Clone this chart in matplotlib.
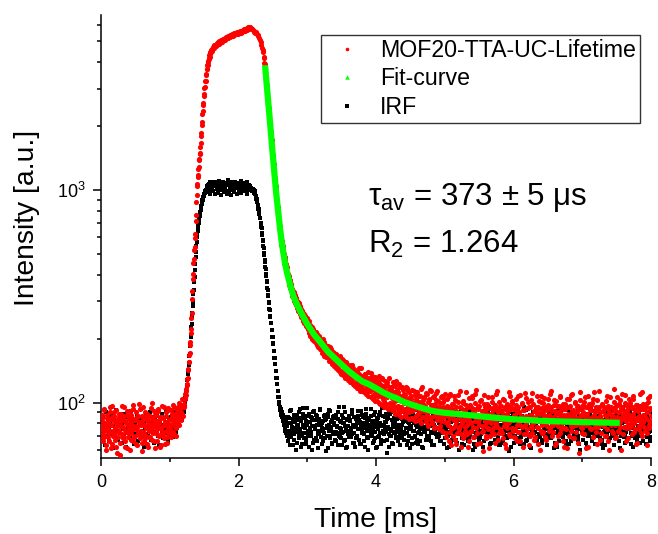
import numpy as np
import matplotlib
matplotlib.use('Agg')
import matplotlib.pyplot as plt
from matplotlib.lines import Line2D
from matplotlib.ticker import LogLocator, MultipleLocator, NullFormatter

plt.rcParams['font.family'] = ['Liberation Sans', 'DejaVu Sans']
plt.rcParams['mathtext.fontset'] = 'custom'
plt.rcParams['mathtext.rm'] = 'Liberation Sans'
plt.rcParams['mathtext.it'] = 'Liberation Sans:italic'

# MOF20 TTA-UC lifetime (red) in segments
# each segment: (start time ms, step ms, values)
red_base = [78, 71, 85, 66, 92, 74, 80, 63, 88, 76,
            69, 83, 72, 95, 61, 79, 86, 70, 74, 90,
            67, 81, 77, 58, 84, 73, 89, 65, 78, 82,
            71, 97, 68, 75, 87, 62, 80, 74, 91, 69,
            84, 76, 60, 88, 72, 79, 66, 93, 75, 70,
            83, 64, 86, 77, 71, 99, 68, 81, 74, 59,
            87, 73, 79, 66, 90, 76, 70, 84, 62, 78,
            82, 69, 94, 75, 67, 85, 72, 80, 61, 88,
            74, 79, 66, 91, 70, 83, 76, 63, 86, 72,
            78, 95, 68, 81, 74, 87, 65, 79, 92, 71,
            84, 76, 69, 89, 80, 73, 96, 77, 85, 70,
            88, 82, 91, 79, 86, 94, 83, 90, 98, 87]
red_base_b = [75, 88, 68, 81, 93, 70, 77, 60, 85, 73,
              80, 66, 90, 74, 79, 97, 64, 83, 71, 87,
              76, 92, 62, 80, 69, 86, 74, 57, 89, 78,
              84, 70, 77, 95, 66, 82, 73, 88, 61, 79,
              72, 91, 80, 67, 85, 75, 98, 69, 83, 76,
              90, 78, 63, 87, 74, 81, 93, 70, 79, 65,
              83, 95, 72, 86, 68, 77, 89, 64, 81, 74,
              69, 87, 79, 100, 73, 84, 66, 91, 77, 82,
              88, 71, 93, 76, 80, 62, 86, 75, 97, 70,
              85, 73, 81, 64, 90, 78, 69, 94, 75, 83,
              79, 92, 74, 86, 98, 71, 82, 89, 76, 93,
              80, 95, 87, 100, 84, 92, 97, 89, 104, 96]
red_rise = [95, 99, 98, 104, 105, 110, 109, 116, 114, 121,
            122, 129, 131, 142, 144, 155, 156, 167, 171, 187,
            192, 212, 222, 249, 264, 306, 334, 381, 405, 455,
            472, 522, 541, 597, 620, 712, 765, 875, 945, 1040,
            1070, 1150, 1175, 1260, 1290, 1380, 1400, 1480, 1500, 1600,
            1660, 1800, 1860, 2020, 2090, 2270, 2340, 2510, 2570, 2760,
            2820, 3030, 3050, 3250, 3270, 3480, 3500, 3700, 3690, 3890,
            3850, 4050, 3990, 4190, 4120, 4320, 4230, 4440, 4340, 4540,
            4450]
red_top = [4580, 4520, 4700, 4640, 4810, 4730, 4780, 4900, 4820, 4950,
           4870, 5010, 4930, 4990, 5080, 4980, 5130, 5050, 5110, 5200,
           5090, 5240, 5160, 5290, 5190, 5320, 5250, 5380, 5280, 5350,
           5430, 5310, 5450, 5370, 5490, 5390, 5460, 5530, 5410, 5550,
           5470, 5580, 5500, 5620, 5540, 5650, 5570, 5690, 5610, 5720,
           5650, 5770, 5680, 5820, 5720, 5850, 5760, 5800, 5710, 5740,
           5650, 5600, 5560, 5480, 5520, 5460, 5420, 5340, 5290, 5180,
           5080, 4940, 4800, 4660, 4560]
red_fall = [4480, 4450, 4230, 4180, 3960, 3920, 3720, 3690, 3450, 3400,
            3160, 3120, 2900, 2870, 2680, 2640, 2450, 2420, 2250, 2230,
            2070, 2050, 1890, 1870, 1740, 1710, 1590, 1570, 1460, 1450,
            1340, 1330, 1230, 1220, 1140, 1130, 1040, 1045, 965, 962,
            890, 895, 826, 830, 760, 772, 708, 720, 660, 675,
            618, 640, 578, 605, 550, 575, 522, 548, 498, 526,
            475, 503, 455, 485, 438, 468, 425, 449, 410, 436]
red_tail = [412, 381, 395, 358, 372, 340, 352, 318, 335, 322,
            302, 322, 289, 310, 280, 298, 271, 290, 262, 281,
            276, 252, 270, 246, 262, 238, 255, 232, 249, 226,
            236, 212, 229, 205, 226, 218, 200, 222, 197, 215,
            211, 190, 207, 186, 203, 182, 200, 195, 178, 193,
            195, 172, 190, 177, 166, 187, 164, 182, 168, 177,
            181, 157, 173, 161, 178, 152, 170, 165, 149, 168,
            166, 145, 162, 142, 160, 153, 139, 158, 137, 152,
            156, 135, 151, 146, 131, 155, 133, 148, 128, 144,
            147, 125, 143, 131, 151, 122, 139, 134, 120, 141,
            138, 117, 135, 124, 145, 114, 131, 121, 134, 113,
            133, 112, 127, 137, 110, 124, 116, 131, 108, 126,
            123, 138, 106, 120, 128, 104, 117, 132, 107, 121,
            125, 102, 118, 133, 100, 115, 110, 129, 98, 120,
            115, 95, 126, 107, 99, 121, 93, 112, 131, 100,
            110, 118, 92, 125, 97, 112, 89, 120, 104, 94,
            115, 90, 108, 122, 94, 102, 86, 118, 105, 92,
            110, 88, 103, 119, 90, 98, 113, 84, 106, 95,
            104, 85, 115, 92, 100, 82, 109, 94, 88, 112,
            99, 83, 107, 90, 116, 80, 96, 103, 86, 106,
            94, 81, 111, 88, 101, 78, 104, 91, 84, 114,
            98, 80, 91, 108, 76, 93, 103, 83, 113, 87,
            96, 75, 89, 106, 82, 94, 73, 101, 86, 110,
            88, 72, 104, 81, 95, 66, 110, 85, 76, 99,
            92, 70, 83, 107, 78, 96, 64, 89, 101, 75,
            86, 113, 71, 94, 80, 68, 102, 84, 91, 74,
            98, 79, 87, 62, 105, 83, 73, 95, 88, 108,
            77, 90, 69, 100, 84, 115, 72, 93, 81, 97,
            65, 86, 103, 78, 91, 74, 109, 82, 95, 70,
            89, 99, 76, 85, 61, 94, 80, 106, 73, 88,
            96, 71, 83, 110, 79, 92, 67, 87, 101, 75,
            84, 97, 72, 89, 104, 78, 93, 64, 86, 99,
            76, 91, 112, 81, 70, 95, 85, 102, 74, 88,
            93, 68, 84, 98, 79, 107, 73, 90, 82, 66,
            87, 100, 77, 92, 71, 85, 111, 80, 94, 75,
            83, 63, 96, 88, 78, 103, 72, 86, 99, 81,
            69, 91, 84, 108, 76, 95, 82, 60, 89, 101,
            79, 94, 73, 87, 105, 80, 67, 92, 85, 98,
            74, 88, 110, 82, 95, 70, 86, 79, 103, 91,
            84, 65, 97, 78, 90, 83, 106, 72, 88, 94,
            77, 99, 86, 62, 93, 81, 75, 104, 89, 70,
            96, 83, 109, 78, 87, 68, 92, 80, 100, 85,
            73, 90, 82, 97, 58, 86, 112, 79, 94, 76,
            88, 101, 71, 84, 95, 61, 89, 80, 107, 83,
            92, 75, 98, 86, 69, 104, 81, 90, 77, 96,
            85, 64, 93, 79, 113, 87, 72, 99, 82, 91,
            78, 95, 88, 70, 102, 84, 97, 66, 90, 80,
            106, 83, 74, 94, 87, 116, 79, 92, 69, 86,
            98, 81, 90, 73, 103, 85, 60, 95, 88, 77,
            91, 109, 82, 76, 97, 68, 89, 84, 100, 79,
            86, 71, 94, 104, 80, 92, 75, 98, 83, 65,
            96, 87, 78, 110, 84, 72, 93, 81, 99, 88,
            74, 95, 85, 63, 101, 90, 79, 107, 82, 93]
red_tail_b = [388, 405, 362, 378, 345, 361, 326, 343, 314, 330,
              318, 295, 312, 284, 302, 276, 294, 270, 285, 259,
              254, 271, 243, 263, 236, 256, 229, 247, 240, 223,
              222, 241, 214, 233, 207, 228, 201, 219, 212, 196,
              201, 215, 193, 210, 188, 205, 184, 198, 191, 179,
              183, 199, 176, 192, 170, 186, 175, 165, 184, 171,
              163, 183, 159, 176, 167, 154, 174, 160, 172, 151,
              154, 170, 148, 163, 157, 143, 166, 150, 139, 160,
              141, 159, 145, 137, 156, 149, 134, 152, 140, 130,
              145, 130, 150, 137, 126, 146, 135, 121, 143, 131,
              124, 141, 130, 118, 137, 127, 146, 120, 133, 116,
              129, 115, 136, 123, 111, 130, 119, 140, 114, 125,
              113, 129, 118, 134, 109, 124, 115, 102, 130, 112,
              121, 107, 127, 113, 99, 123, 108, 131, 104, 117,
              102, 120, 109, 96, 125, 106, 114, 94, 119, 110,
              99, 116, 105, 92, 121, 101, 110, 96, 127, 103,
              97, 112, 88, 108, 119, 95, 104, 91, 115, 100,
              93, 109, 86, 104, 117, 96, 90, 112, 101, 85,
              107, 91, 100, 84, 113, 95, 104, 87, 110, 93,
              89, 101, 82, 108, 94, 119, 86, 99, 91, 105,
              97, 84, 110, 89, 79, 103, 92, 115, 86, 98,
              81, 95, 106, 87, 99, 77, 111, 90, 84, 102,
              93, 78, 100, 85, 108, 74, 96, 88, 104, 81,
              91, 69, 97, 79, 86, 107, 73, 94, 63, 88,
              76, 99, 84, 67, 103, 81, 90, 72, 109, 85,
              95, 78, 62, 89, 82, 100, 70, 92, 77, 112,
              83, 71, 96, 87, 66, 98, 80, 74, 105, 91,
              69, 93, 82, 110, 76, 88, 64, 97, 84, 79,
              102, 87, 73, 91, 59, 85, 99, 78, 93, 68,
              81, 106, 75, 94, 83, 70, 89, 101, 76, 92,
              87, 65, 98, 80, 114, 77, 90, 72, 96, 84,
              74, 91, 86, 68, 103, 82, 95, 79, 61, 89,
              97, 80, 71, 107, 85, 93, 76, 100, 83, 69,
              88, 75, 104, 90, 66, 96, 81, 73, 109, 86,
              78, 99, 84, 62, 92, 79, 105, 87, 71, 94,
              101, 83, 70, 95, 88, 76, 111, 80, 91, 67,
              85, 96, 77, 89, 64, 102, 82, 93, 74, 108,
              72, 90, 100, 81, 95, 69, 87, 78, 104, 83,
              94, 76, 86, 113, 79, 91, 73, 98, 84, 63,
              89, 102, 80, 70, 97, 85, 107, 75, 92, 81,
              66, 93, 88, 99, 76, 83, 61, 95, 86, 104,
              97, 80, 74, 91, 110, 78, 89, 68, 101, 84,
              79, 96, 85, 65, 93, 103, 77, 88, 72, 98,
              90, 71, 106, 83, 79, 95, 86, 62, 99, 82,
              76, 92, 81, 100, 69, 88, 112, 80, 94, 73,
              103, 85, 77, 96, 90, 67, 84, 98, 79, 91,
              82, 70, 94, 87, 108, 75, 93, 83, 60, 89,
              95, 79, 86, 72, 101, 91, 68, 97, 84, 106,
              74, 90, 99, 81, 77, 94, 85, 110, 71, 88,
              100, 83, 66, 92, 87, 79, 104, 76, 95, 82,
              78, 96, 89, 107, 73, 85, 92, 64, 98, 86,
              91, 75, 83, 97, 80, 112, 70, 88, 93, 77,
              84, 99, 72, 90, 105, 82, 76, 94, 87]

# IRF (black)
irf_base = [72, 81, 68, 86, 75, 79, 63, 90, 74, 70,
            84, 77, 66, 82, 73, 88, 71, 78, 61, 85,
            76, 69, 92, 74, 80, 67, 83, 72, 78, 87,
            65, 79, 75, 89, 70, 81, 74, 62, 86, 77,
            73, 84, 68, 79, 91, 72, 76, 83, 64, 80,
            78, 71, 87, 75, 66, 82, 79, 73, 93, 69,
            85, 74, 80, 62, 77, 88, 71, 83, 76, 70,
            79, 90, 67, 81, 74, 86, 72, 65, 84, 78,
            73, 80, 87, 70, 76, 63, 82, 79, 89, 74,
            68, 85, 77, 72, 91, 75, 81, 66, 78, 84,
            71, 79, 86, 74, 69, 83, 77, 90, 80, 73,
            82, 76, 88, 79, 85, 91, 84, 87, 83, 89]
irf_rise = [90, 96, 93, 101, 98, 105, 104, 112, 112, 120,
            121, 128, 129, 137, 140, 150, 153, 165, 170, 185,
            189, 203, 209, 227, 234, 255, 263, 286, 298, 325,
            340, 368, 389, 420, 447, 485, 513, 548, 569, 600,
            617, 645, 661, 686, 700, 722, 733, 756, 767, 792,
            804, 828, 841, 862, 871, 895, 902, 918, 923, 940,
            944, 960, 966, 985, 974, 1005, 990, 1030, 975, 1045,
            1000, 1060, 985, 1035, 1070, 995, 1050, 960, 1085, 1010,
            1040]
irf_top = [1020, 1075, 985, 1050, 1095, 960, 1040, 1010, 1085, 970,
           1060, 1100, 995, 1035, 950, 1070, 1015, 1090, 980, 1045,
           1005, 1080, 960, 1055, 1110, 990, 1030, 1065, 945, 1040,
           1085, 1000, 1050, 975, 1095, 1020, 1060, 955, 1045, 1075,
           990, 1030, 1100, 965, 1050, 1015, 1080, 985, 1040, 1070,
           1000, 1090, 960, 1035, 1060, 995, 1045, 1020, 985, 1005]
irf_fall = [1012, 990, 1005, 982, 995, 968, 985, 960, 962, 942,
            935, 910, 905, 880, 880, 852, 848, 818, 812, 785,
            775, 742, 735, 700, 700, 670, 662, 630, 615, 585,
            575, 545, 532, 505, 494, 468, 458, 435, 425, 402,
            395, 372, 368, 345, 340, 320, 316, 296, 293, 275,
            273, 255, 254, 236, 236, 220, 219, 204, 203, 190,
            189, 176, 176, 163, 163, 152, 152, 141, 141, 131,
            131, 122, 122, 114, 113, 106, 106, 101, 99, 96,
            95, 92, 93, 88, 91, 86, 90, 84, 88, 82,
            86, 79, 85, 77, 83, 74, 81, 72, 84, 70]
irf_tail = [78, 66, 85, 72, 91, 69, 80, 74, 63, 88,
            71, 83, 76, 60, 87, 73, 79, 68, 93, 75,
            82, 70, 64, 89, 77, 72, 85, 67, 79, 94,
            73, 81, 62, 76, 86, 70, 78, 90, 65, 83,
            75, 68, 88, 79, 71, 61, 84, 74, 92, 69,
            80, 76, 66, 87, 72, 83, 59, 78, 70, 89,
            74, 92, 68, 81, 75, 64, 86, 71, 79, 67,
            85, 73, 77, 63, 90, 70, 82, 76, 68, 88,
            72, 80, 95, 66, 78, 74, 61, 84, 71, 87,
            69, 83, 76, 73, 89, 65, 79, 72, 86, 62,
            77, 70, 84, 91, 67, 75, 81, 64, 88, 73,
            80, 66, 72, 85, 78, 93, 69, 76, 60, 83,
            74, 87, 71, 79, 65, 82, 73, 90, 68, 77,
            84, 62, 75, 88, 70, 80, 67, 78, 94, 72,
            66, 79, 86, 73, 81, 58, 76, 85, 71, 89,
            75, 70, 83, 64, 77, 92, 72, 80, 68, 84,
            87, 73, 69, 78, 63, 85, 74, 79, 90, 67,
            71, 82, 76, 88, 72, 66, 81, 75, 61, 86,
            78, 68, 91, 74, 80, 70, 84, 65, 77, 83,
            64, 85, 73, 79, 87, 71, 62, 82, 76, 89,
            73, 77, 67, 86, 75, 93, 70, 78, 84, 66,
            81, 72, 88, 63, 79, 74, 85, 69, 76, 90,
            70, 83, 76, 72, 66, 87, 80, 75, 92, 68,
            86, 74, 61, 79, 84, 71, 77, 89, 65, 82,
            76, 69, 85, 73, 90, 78, 67, 81, 72, 60,
            83, 75, 79, 88, 68, 74, 86, 63, 80, 77,
            71, 92, 74, 66, 82, 76, 70, 87, 79, 73,
            89, 64, 78, 84, 72, 69, 81, 75, 93, 67,
            74, 80, 71, 86, 62, 79, 88, 73, 77, 85,
            68, 83, 90, 70, 76, 82, 65, 78, 72, 87,
            79, 73, 67, 85, 81, 74, 91, 69, 84, 63,
            76, 88, 72, 78, 66, 83, 75, 80, 70, 94,
            82, 69, 77, 59, 86, 73, 79, 71, 89, 75,
            65, 84, 80, 74, 90, 68, 77, 85, 72, 81,
            78, 71, 87, 76, 64, 82, 73, 92, 67, 79,
            86, 75, 70, 83, 77, 61, 88, 74, 80, 72,
            73, 90, 78, 66, 84, 76, 71, 82, 69, 87,
            80, 67, 85, 79, 72, 93, 75, 63, 81, 76,
            70, 83, 74, 88, 68, 78, 86, 72, 77, 65,
            89, 76, 62, 81, 75, 84, 70, 79, 91, 73,
            77, 69, 86, 72, 80, 66, 83, 75, 71, 88,
            64, 82, 78, 90, 74, 79, 68, 85, 76, 72,
            84, 73, 81, 67, 87, 75, 60, 80, 78, 92,
            71, 86, 76, 79, 65, 83, 72, 89, 70, 77,
            82, 74, 93, 68, 78, 85, 73, 64, 86, 75,
            76, 80, 70, 84, 72, 88, 79, 67, 83, 61,
            90, 73, 78, 75, 86, 69, 81, 74, 77, 85,
            68, 84, 72, 91, 76, 63, 80, 87, 71, 79,
            75, 82, 66, 78, 89, 74, 70, 83, 92, 73,
            81, 65, 87, 73, 77, 85, 68, 79, 76, 90,
            72, 79, 84, 62, 80, 75, 88, 71, 83, 67,
            86, 74, 70, 82, 78, 93, 73, 66, 81, 77,
            79, 88, 64, 76, 84, 71, 80, 90, 69, 74]
irf_tail_b = [74, 86, 69, 80, 63, 92, 77, 71, 84, 67,
              81, 73, 88, 65, 78, 83, 70, 90, 75, 62,
              85, 72, 79, 94, 68, 76, 82, 64, 87, 74,
              70, 89, 76, 81, 73, 60, 85, 78, 67, 91,
              77, 83, 66, 87, 74, 80, 71, 93, 69, 79,
              64, 82, 75, 72, 88, 68, 84, 76, 61, 86,
              79, 70, 91, 77, 65, 83, 73, 87, 80, 71,
              88, 66, 78, 84, 72, 95, 69, 81, 75, 63,
              73, 85, 80, 67, 90, 76, 62, 83, 78, 87,
              82, 74, 69, 92, 71, 79, 86, 65, 77, 84,
              68, 80, 87, 75, 83, 64, 78, 91, 72, 76,
              86, 71, 77, 62, 89, 81, 74, 68, 85, 79,
              75, 93, 70, 82, 76, 66, 88, 73, 80, 61,
              83, 69, 85, 78, 72, 90, 64, 79, 74, 87,
              71, 81, 76, 89, 67, 84, 77, 62, 92, 70,
              90, 74, 65, 80, 85, 73, 82, 78, 69, 76,
              66, 87, 79, 71, 94, 75, 68, 84, 81, 73,
              84, 72, 91, 76, 63, 86, 80, 70, 77, 89,
              77, 64, 82, 88, 74, 69, 92, 79, 67, 83,
              72, 90, 75, 66, 81, 78, 85, 61, 88, 74,
              87, 76, 70, 84, 92, 67, 79, 83, 73, 80,
              63, 82, 89, 74, 77, 85, 71, 94, 76, 69,
              80, 73, 66, 91, 82, 75, 88, 64, 79, 86,
              75, 88, 78, 70, 62, 84, 73, 90, 81, 67,
              92, 69, 83, 76, 87, 72, 65, 80, 74, 85,
              71, 79, 93, 64, 75, 89, 82, 77, 68, 83,
              86, 74, 70, 81, 67, 78, 91, 73, 84, 60,
              77, 85, 62, 88, 79, 71, 76, 94, 69, 82,
              68, 80, 87, 73, 84, 90, 66, 78, 75, 89,
              83, 72, 78, 95, 70, 64, 85, 81, 92, 74,
              76, 89, 71, 67, 82, 77, 87, 63, 79, 86,
              91, 65, 84, 79, 73, 88, 70, 83, 76, 68,
              74, 81, 90, 72, 86, 62, 80, 75, 93, 78,
              85, 70, 76, 83, 67, 91, 77, 88, 64, 82,
              69, 87, 79, 74, 95, 72, 84, 66, 80, 76,
              82, 75, 62, 88, 71, 80, 73, 90, 78, 85,
              77, 92, 83, 69, 76, 86, 64, 81, 74, 89,
              65, 79, 88, 75, 84, 70, 93, 77, 82, 71,
              90, 73, 68, 86, 78, 82, 75, 61, 87, 80,
              72, 84, 77, 91, 66, 74, 89, 83, 70, 94,
              87, 69, 81, 76, 85, 63, 78, 72, 92, 75,
              74, 90, 66, 83, 79, 88, 71, 86, 68, 81,
              80, 76, 92, 70, 64, 84, 77, 93, 73, 87,
              67, 85, 74, 82, 89, 75, 62, 79, 86, 71,
              88, 72, 79, 66, 83, 91, 76, 70, 81, 94,
              75, 81, 87, 73, 68, 78, 85, 64, 90, 77,
              83, 63, 76, 89, 80, 71, 92, 74, 67, 84,
              79, 86, 70, 75, 93, 82, 68, 88, 76, 72,
              90, 74, 84, 61, 78, 87, 73, 80, 95, 69,
              71, 82, 77, 88, 66, 75, 91, 79, 83, 64,
              86, 70, 93, 76, 81, 68, 84, 72, 89, 78,
              73, 89, 65, 82, 77, 92, 70, 85, 74, 80,
              81, 76, 87, 69, 84, 73, 90, 66, 79]

# fit curve (green)
fit_t = [2.39, 2.42, 2.45, 2.48, 2.50, 2.53, 2.55, 2.58, 2.60, 2.625,
         2.65, 2.675, 2.70, 2.75, 2.80, 2.85, 2.90, 2.95, 3.00, 3.10,
         3.20, 3.30, 3.40, 3.50, 3.60, 3.70, 3.80, 3.90, 4.00, 4.10,
         4.20, 4.30, 4.40, 4.50, 4.60, 4.70, 4.80, 4.90, 5.00, 5.25,
         5.50, 5.75, 6.00, 6.50, 7.00, 7.50]
fit_v = [3733, 2884, 2239, 1718, 1445, 1122, 955, 776, 676, 582,
         513, 457, 417, 359, 316, 290, 269, 251, 234, 209,
         191, 174, 162, 151, 141, 133, 126, 122, 117, 112,
         108, 105, 101, 98.4, 96, 93.8, 91.8, 90.6, 89.7, 88.1,
         86.5, 84.9, 83.6, 82.0, 81.1, 80.5]

red_segs = [(0.0, 0.01, red_base), (0.005, 0.01, red_base_b), (1.2, 0.005, red_rise),
            (1.61, 0.01, red_top), (2.355, 0.005, red_fall), (2.71, 0.01, red_tail),
            (2.715, 0.01, red_tail_b)]
irf_segs = [(0.0, 0.01, irf_base), (1.2, 0.005, irf_rise), (1.61, 0.01, irf_top),
            (2.205, 0.005, irf_fall), (2.71, 0.01, irf_tail), (2.715, 0.01, irf_tail_b)]


def join(segs):
    t = np.concatenate([s + d * np.arange(len(v)) for s, d, v in segs])
    y = np.concatenate([np.asarray(v, float) for s, d, v in segs])
    return t, y


red_t, red_y = join(red_segs)
irf_t, irf_y = join(irf_segs)

fig = plt.figure(figsize=(6.58, 5.34), dpi=100)
ax = fig.add_axes([101 / 658, (534 - 458.3) / 534, 550 / 658, (458.3 - 15) / 534])

ax.plot(irf_t, irf_y, 's', color='black', ms=3.2, mew=0, zorder=2)
ax.plot(red_t, red_y, 'o', color='#ff0000', ms=3.7, mew=0, zorder=3)
ax.plot(fit_t, fit_v, '-', color='#00ff00', lw=4.5, zorder=4)

ax.set_yscale('log')
ax.set_xlim(0, 8)
ax.set_ylim(54.8, 6650)

ax.xaxis.set_major_locator(MultipleLocator(2))
ax.xaxis.set_minor_locator(MultipleLocator(1))
ax.yaxis.set_major_locator(LogLocator(base=10))
ax.yaxis.set_minor_locator(LogLocator(base=10, subs=np.arange(2, 10)))
ax.yaxis.set_minor_formatter(NullFormatter())

for s in ['top', 'right']:
    ax.spines[s].set_visible(False)
for s in ['left', 'bottom']:
    ax.spines[s].set_linewidth(1.1)

ax.tick_params(which='major', direction='out', length=5.5, width=1.1, labelsize=13, pad=5.5)
ax.tick_params(which='minor', direction='out', length=3, width=1.1)

ax.set_xlabel('Time [ms]', fontsize=20.3, labelpad=12)
ax.set_ylabel('Intensity [a.u.]', fontsize=20.3)
ax.yaxis.set_label_coords(-0.111, 0.542)

handles = [Line2D([], [], ls='none', marker='o', color='#ff0000', ms=2.6, mew=0),
           Line2D([], [], ls='none', marker='^', color='#00ff00', ms=3.2, mew=0),
           Line2D([], [], ls='none', marker='s', color='black', ms=2.2, mew=0)]
labels = ['MOF20-TTA-UC-Lifetime', 'Fit-curve', 'IRF']
leg = ax.legend(handles, labels, loc='upper left', bbox_to_anchor=(0.3995, 0.9556),
                fontsize=16.7, frameon=True, fancybox=False, edgecolor='black',
                handlelength=1.9, handletextpad=0.5, borderpad=0.17, labelspacing=0.24,
                borderaxespad=0)
leg.get_frame().set_linewidth(1.0)

ax.text(0.4855, 0.5714, r'$\mathregular{\tau_{av}}$ = 373 ± 5 μs', transform=ax.transAxes,
        fontsize=22.5, va='baseline', ha='left')
ax.text(0.4855, 0.4635, r'$\mathregular{R_2}$ = 1.264', transform=ax.transAxes,
        fontsize=22.5, va='baseline', ha='left')

fig.savefig('out.png', dpi=100)
